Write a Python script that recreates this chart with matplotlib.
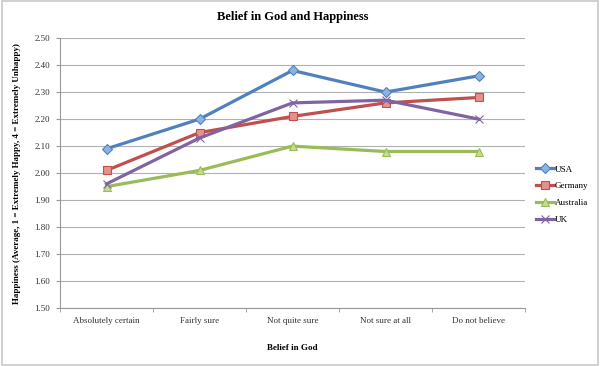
import matplotlib
matplotlib.use("Agg")
import matplotlib.pyplot as plt
from matplotlib.patches import Rectangle

categories = ["Absolutely certain", "Fairly sure", "Not quite sure", "Not sure at all", "Do not believe"]
usa = [2.09, 2.20, 2.38, 2.30, 2.36]
germany = [2.01, 2.15, 2.21, 2.26, 2.28]
australia = [1.95, 2.01, 2.10, 2.08, 2.08]
uk = [1.96, 2.13, 2.26, 2.27, 2.20]
yticks = [1.50, 1.60, 1.70, 1.80, 1.90, 2.00, 2.10, 2.20, 2.30, 2.40, 2.50]

plt.rcParams['font.family'] = ['Liberation Serif', 'DejaVu Serif']

fig = plt.figure(figsize=(6, 3.66), dpi=100)
ax = fig.add_axes([0.1, 0.158, 0.775, 0.738])

fig.patches.append(Rectangle((0.003, 0.004), 0.994, 0.992, transform=fig.transFigure,
                             fill=False, edgecolor="#c8c8c8", linewidth=1.2))

x = range(len(categories))
series = [
    ("USA", usa, "#4F81BD", "#8FB3E0", "D", 5),
    ("Germany", germany, "#C0504D", "#E8908C", "s", 5.5),
    ("Australia", australia, "#9BBB59", "#C6DC95", "^", 5.5),
    ("UK", uk, "#8064A2", "#B7A3CF", "x", 5.5),
]
for name, vals, col, face, m, ms in series:
    ax.plot(x, vals, color=col, linewidth=2.3, marker=m, markersize=ms,
            markerfacecolor=face, markeredgecolor=col, markeredgewidth=0.8, label=name)

ax.set_xlim(-0.5, len(categories) - 0.5)
ax.set_ylim(1.5, 2.5)
ax.set_yticks(yticks)
ax.set_yticklabels(["%.2f" % v for v in yticks], fontsize=6.5, color="#333333")
ax.set_xticks(list(x))
ax.set_xticklabels(categories, fontsize=6.5, color="#333333")
ax.set_xticks([i + 0.5 for i in range(-1, len(categories))], minor=True)
ax.tick_params(axis="x", which="major", length=0, pad=6)
ax.tick_params(axis="x", which="minor", length=3, color="#999999")
ax.tick_params(axis="y", length=3, color="#999999", pad=4)
ax.grid(axis="y", color="#b0b0b0", linewidth=0.8)
ax.set_axisbelow(True)
for s in ["top", "right"]:
    ax.spines[s].set_visible(False)
for s in ["left", "bottom"]:
    ax.spines[s].set_color("#999999")
    ax.spines[s].set_linewidth(0.8)

ax.set_title("Belief in God and Happiness", fontsize=9, fontweight="bold", pad=13)
ax.set_xlabel("Belief in God", fontsize=6.5, fontweight="bold", labelpad=14)
ax.set_ylabel("Happiness (Average, 1 = Extremely Happy, 4 = Extremely Unhappy)",
              fontsize=6.5, fontweight="bold", labelpad=10)

ax.legend(loc="center left", bbox_to_anchor=(1.0, 0.42), frameon=False, fontsize=6.5,
          handlelength=2.0, labelspacing=0.95, handletextpad=0.1, borderaxespad=0.8)

fig.savefig("out.png", dpi=100)
